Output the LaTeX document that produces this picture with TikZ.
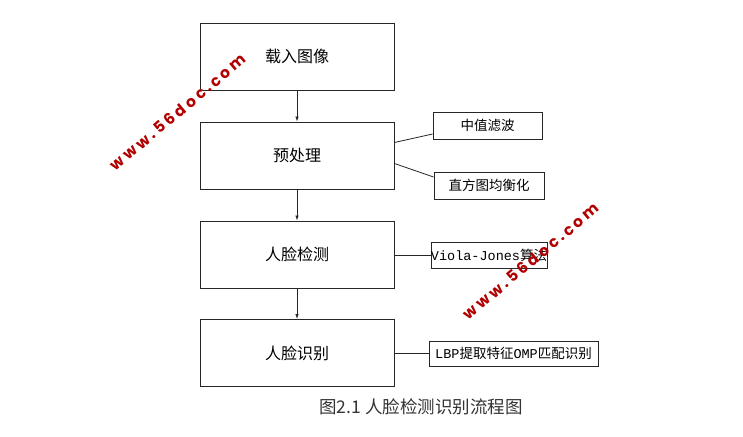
\documentclass[tikz,border=0pt]{standalone}
\usepackage{fontspec}
\usepackage{tikz}
\usetikzlibrary{arrows.meta}
\newfontfamily\cjk{Noto Sans CJK SC}
\newfontfamily\latmono{Liberation Mono}
\newfontfamily\wmfont[LetterSpace=20]{Poppins}

\tikzset{
    stepbox/.style={draw=black!85, line width=0.9pt, minimum width=194pt, minimum height=67pt,
        font=\cjk\fontsize{16}{18}\selectfont},
    sidebox/.style={draw=black!85, line width=0.9pt, inner sep=0pt, minimum height=27pt,
        font=\cjk\fontsize{13.5}{15}\selectfont},
    link/.style={draw=black!85, line width=0.8pt},
    wmark/.style={text=red!70!black, rotate=40, font=\wmfont\bfseries\fontsize{15.5}{17}\selectfont}
}

\begin{document}
\begin{tikzpicture}[x=1pt,y=-1pt]
        \useasboundingbox [fill=white] (0,0) rectangle (743,436);
        % main steps
        \node [stepbox] (load) at (297, 56.5) {载入图像};
        \node [stepbox] (pre) at (297, 155.5) {预处理};
        \node [stepbox] (det) at (297, 254.5) {人脸检测};
        \node [stepbox] (rec) at (297, 353) {人脸识别};
        \draw [link, -{Latex[length=5pt,width=3.5pt]}] (load) -- (pre);
        \draw [link, -{Latex[length=5pt,width=3.5pt]}] (pre) -- (det);
        \draw [link, -{Latex[length=5pt,width=3.5pt]}] (det) -- (rec);
        % side boxes
        \node [sidebox, minimum width=109pt] (med) at (487.5, 125.5) {中值滤波};
        \node [sidebox, minimum width=110pt] (hist) at (489, 185.5) {直方图均衡化};
        \node [sidebox, minimum width=114pt, minimum height=26pt] (vj) at (489, 255) {{\latmono Viola-Jones}算法};
        \node [sidebox, minimum width=169pt, minimum height=25pt] (lbp) at (513.5, 353.5) {{\latmono LBP}提取特征{\latmono OMP}匹配识别};
        \draw [link] ([yshift=13pt]pre.east) -- ([yshift=-8.5pt]med.west);
        \draw [link] ([yshift=-8pt]pre.east) -- ([yshift=8.5pt]hist.west);
        \draw [link] (det.east |- vj.west) -- (vj.west);
        \draw [link] (rec.east |- lbp.west) -- (lbp.west);
        % caption
        \node [text=black!80, font=\cjk\fontsize{17.5}{19}\selectfont] (cap) at (421, 407) {图2.1 人脸检测识别流程图};
        % watermarks
        \node [wmark] (wm1) at (178, 112) {www.56doc.com};
        \node [wmark] (wm2) at (531, 261) {www.56doc.com};
    \end{tikzpicture}
\end{document}
